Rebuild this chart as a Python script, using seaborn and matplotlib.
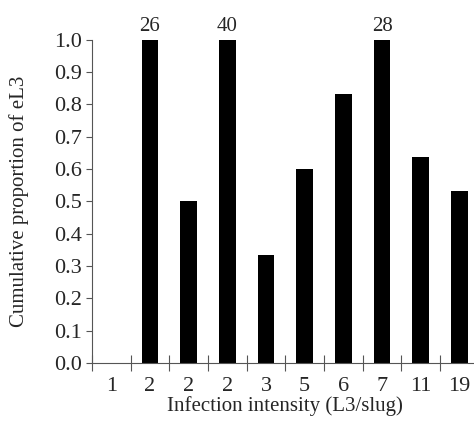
import matplotlib
matplotlib.use("Agg")
import matplotlib.pyplot as plt
import seaborn as sns
import numpy as np

# Infection intensity categories (L3/slug) and cumulative proportion of eL3
intensity_labels = ["1", "2", "2", "2", "3", "5", "6", "7", "11", "19"]
proportions = [0.0, 1.0, 0.5, 1.0, 0.335, 0.60, 0.832, 1.0, 0.638, 0.531]
# numbers written above some bars
bar_notes = {1: "26", 3: "40", 7: "28"}

sns.set_theme(style="white")
plt.rcParams["font.family"] = ["Liberation Serif", "DejaVu Serif"]

fig = plt.figure(figsize=(4.74, 4.28), dpi=100)
ax = fig.add_axes([0.194, 0.152, 0.816, 0.755])

idx = [str(i) for i in range(len(intensity_labels))]
sns.barplot(x=idx, y=proportions, color="black", width=0.43,
            saturation=1, ax=ax, linewidth=0)

for i, txt in bar_notes.items():
    ax.text(i, proportions[i] + 0.012, txt, ha="center", va="bottom",
            fontsize=15, clip_on=False)

ax.set_ylim(0, 1.0)
ax.set_xlim(-0.5, 9.5)
ax.set_yticks(np.arange(0, 1.01, 0.1))
ax.set_yticklabels([f"{v:.1f}" for v in np.arange(0, 1.01, 0.1)], fontsize=16)
ax.set_xticks(range(len(intensity_labels)))
ax.set_xticklabels(intensity_labels, fontsize=16)
ax.set_xticks(np.arange(-0.5, 9.6, 1), minor=True)
ax.tick_params(axis="x", which="major", length=0, pad=10, bottom=True)
ax.tick_params(axis="x", which="minor", length=12, direction="inout", width=0.8,
               color="#555555", bottom=True)
ax.tick_params(axis="y", length=4, direction="out", width=0.8, color="#555555",
               left=True, pad=3)

ax.set_xlabel("Infection intensity (L3/slug)", fontsize=15, labelpad=0)
ax.set_ylabel("Cumulative proportion of eL3", fontsize=15, labelpad=18)

sns.despine(ax=ax, top=True, right=True)
for side in ["left", "bottom"]:
    ax.spines[side].set_color("#555555")
    ax.spines[side].set_linewidth(0.8)

fig.savefig("out.png", dpi=100)
